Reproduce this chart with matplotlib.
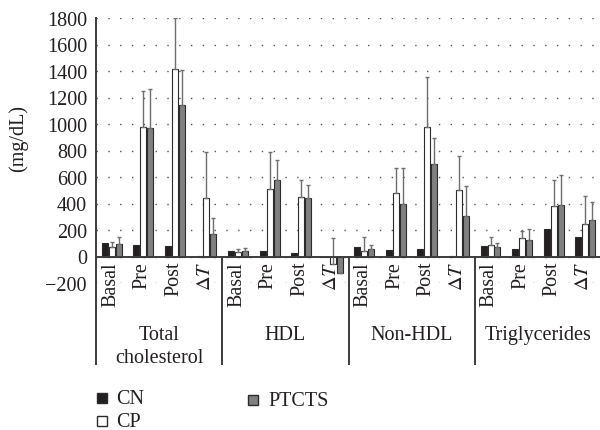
import numpy as np
import matplotlib.pyplot as plt
from matplotlib.lines import Line2D

plt.rcParams['font.family'] = ['Liberation Serif', 'DejaVu Serif']
plt.rcParams['mathtext.fontset'] = 'stix'

# data (mg/dL)
kategori = ['Basal', 'Pre', 'Post', r'$\Delta T$']
grup_baris1 = ['Total', 'HDL', 'Non-HDL', 'Triglycerides']
grup_baris2 = ['cholesterol', '', '', '']

cn = [101, 88, 83, 2,
      38, 43, 30, -5,
      68, 48, 53, 3,
      83, 58, 204, 149]
cp = [71, 979, 1417, 441,
      33, 506, 446, -55,
      38, 476, 974, 501,
      88, 139, 380, 247]
ptcts = [91, 969, 1140, 171,
         40, 574, 443, -125,
         56, 398, 698, 302,
         73, 121, 388, 272]
# upper error bars (top of whisker value)
cp_err_top = [106, 1251, 1800, 785,
              58, 785, 577, 136,
              146, 667, 1357, 758,
              146, 189, 579, 456]
ptcts_err_top = [146, 1266, 1410, 292,
                 63, 730, 541, -125,
                 88, 667, 894, 532,
                 101, 211, 612, 411]

W, H = 600, 431
fig = plt.figure(figsize=(W / 100, H / 100), dpi=100)
ax = fig.add_axes([96 / W, 1 - 284 / H, 505 / W, 265 / H])

x = np.arange(16)
lebar = 0.19
jarak = 0.22
warna_garis = '#2b2b2b'
warna_err = '#6e6e6e'
warna_teks = '#231f20'

ax.bar(x - jarak, cn, lebar, color='#231f20', edgecolor=warna_garis, linewidth=0.8, zorder=3)
ax.bar(x, cp, lebar, color='white', edgecolor=warna_garis, linewidth=0.8, zorder=3)
ax.bar(x + jarak, ptcts, lebar, color='#808080', edgecolor=warna_garis, linewidth=0.8, zorder=3)

cp_up = np.clip(np.array(cp_err_top) - np.array(cp), 0, None)
pt_up = np.clip(np.array(ptcts_err_top) - np.array(ptcts), 0, None)
ax.errorbar(x, cp, yerr=[np.zeros(16), cp_up], fmt='none', ecolor=warna_err,
            elinewidth=1.0, capsize=1.6, capthick=1.0, zorder=4)
ax.errorbar(x + jarak, ptcts, yerr=[np.zeros(16), pt_up], fmt='none', ecolor=warna_err,
            elinewidth=1.0, capsize=1.6, capthick=1.0, zorder=4)

ax.set_xlim(-0.5, 15.5)
ax.set_ylim(-200, 1800)
ax.set_yticks(np.arange(-200, 1801, 200))
ax.set_yticklabels(['\u2212200'] + [str(v) for v in range(0, 1801, 200)])
ax.tick_params(axis='y', length=0, labelsize=14.5, pad=6.5, colors=warna_teks)
ax.set_xticks([])

for s in ['top', 'right', 'left']:
    ax.spines[s].set_visible(False)
ax.spines['bottom'].set_position(('data', 0))
ax.spines['bottom'].set_color('#3c3c3c')
ax.spines['bottom'].set_linewidth(1.4)
ax.spines['bottom'].set_zorder(5)

ax.yaxis.grid(True, linestyle=(0, (1, 7.5)), color='#555555', linewidth=1.0)
ax.set_axisbelow(True)

fig.text(18 / W, 1 - 139 / H, '(mg/dL)', rotation=90, ha='center', va='center',
         fontsize=14.5, color=warna_teks)

# garis pemisah grup, turun sampai area label
trans = ax.get_xaxis_transform()
y_bawah = (284 - 365) / 265
y_nol = 200 / 2000
for xs in [-0.5, 3.5, 7.5, 11.5]:
    atas = 1.0 if xs == -0.5 else y_nol
    ax.add_line(Line2D([xs, xs], [y_bawah, atas], transform=trans, color='#3c3c3c',
                       linewidth=1.4, clip_on=False, zorder=5))

# label kategori
for i in range(16):
    ax.text(x[i] - 0.04, (284 - 262) / 265, kategori[i % 4], transform=trans, rotation=90,
            ha='center', va='top', fontsize=14.5, color=warna_teks)

for g in range(4):
    ax.text(g * 4 + 1.5, (284 - 340) / 265, grup_baris1[g], transform=trans, ha='center',
            va='baseline', fontsize=14.5, color=warna_teks)
    ax.text(g * 4 + 1.5, (284 - 363) / 265, grup_baris2[g], transform=trans, ha='center',
            va='baseline', fontsize=14.5, color=warna_teks)

# legenda
legenda = [('CN', '#231f20', 101.5, 398.5), ('CP', 'white', 101.5, 421.5), ('PTCTS', '#808080', 253, 401)]
for nama, warna, px, py in legenda:
    fig.add_artist(Line2D([px / W], [1 - py / H], marker='s', markersize=6.5,
                          markerfacecolor=warna, markeredgecolor=warna_garis,
                          markeredgewidth=1.0, transform=fig.transFigure))
    fig.text((px + 15) / W, 1 - (py + 1) / H, nama, ha='left', va='center',
             fontsize=14.5, color=warna_teks)

fig.savefig('out.png', dpi=100)
